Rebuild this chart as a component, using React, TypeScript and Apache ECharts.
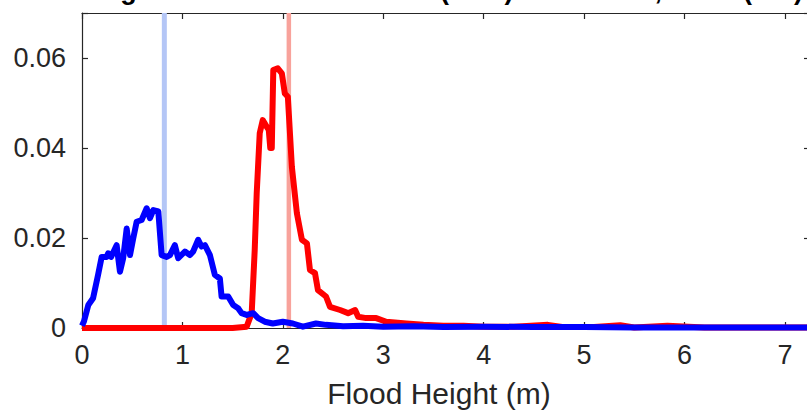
import React, { useEffect, useRef } from "react";
import * as echarts from "echarts";

const TITLE = "Histogram of Occurring Flood Heights Before 1800 or less (blue) and above, more (red)";
const X_LABEL = "Flood Height (m)";
const X_MIN = 0;
const X_MAX = 7.25;
const Y_MIN = 0;
const Y_MAX = 0.07;

const blueHeights = [0, 0.02, 0.063, 0.11, 0.16, 0.196, 0.245, 0.26, 0.29, 0.345, 0.378, 0.41, 0.445, 0.478, 0.51, 0.544, 0.594, 0.644, 0.677, 0.71, 0.76, 0.793, 0.843, 0.876, 0.925, 0.958, 1.025, 1.075, 1.107, 1.157, 1.19, 1.224, 1.274, 1.323, 1.373, 1.39, 1.456, 1.506, 1.555, 1.589, 1.64, 1.705, 1.754, 1.82, 1.9, 2.0, 2.1, 2.2, 2.33, 2.43, 2.6, 2.8, 3.0, 3.3, 3.6, 4.0, 4.5, 5.0, 5.5, 6.0, 6.5, 7.25];
const blueDensity = [0.0005, 0.0015, 0.0051, 0.0066, 0.0118, 0.0158, 0.0158, 0.0166, 0.0158, 0.0184, 0.0125, 0.0155, 0.0221, 0.0162, 0.0199, 0.0236, 0.024, 0.0266, 0.0244, 0.0262, 0.0259, 0.0162, 0.0158, 0.0162, 0.0184, 0.0155, 0.017, 0.0162, 0.017, 0.0196, 0.0181, 0.0184, 0.0162, 0.0118, 0.011, 0.007, 0.007, 0.0051, 0.0044, 0.0033, 0.0029, 0.0033, 0.0022, 0.0014, 0.001, 0.0014, 0.001, 0.0003, 0.001, 0.0007, 0.0004, 0.0005, 0.0003, 0.0004, 0.0002, 0.0003, 0.0002, 0.0002, 0.0001, 0.0001, 0.0001, 0.0001];

const redHeights = [0, 0.5, 1.0, 1.5, 1.64, 1.69, 1.72, 1.74, 1.77, 1.8, 1.84, 1.86, 1.875, 1.89, 1.905, 1.95, 1.99, 2.02, 2.05, 2.09, 2.14, 2.19, 2.24, 2.27, 2.32, 2.35, 2.43, 2.47, 2.57, 2.65, 2.72, 2.75, 2.83, 2.93, 3.03, 3.23, 3.4, 3.6, 3.8, 4.0, 4.3, 4.64, 4.8, 5.1, 5.36, 5.5, 5.83, 6.2, 7.25];
const redDensity = [0, 0, 0, 0, 0.0003, 0.0033, 0.0173, 0.03, 0.0433, 0.0462, 0.0447, 0.044, 0.04, 0.04, 0.0573, 0.0577, 0.0566, 0.0521, 0.0514, 0.0358, 0.0255, 0.0196, 0.0188, 0.0129, 0.0122, 0.0084, 0.007, 0.0047, 0.004, 0.0033, 0.004, 0.0025, 0.0022, 0.0022, 0.0014, 0.001, 0.0007, 0.0005, 0.0005, 0.0003, 0.0003, 0.0007, 0.0002, 0.0002, 0.0006, 0.0001, 0.0005, 0.0001, 0.0001];

const blueMarker = 0.82;
const redMarker = 2.06;

const FONT = "'Liberation Sans', Arial, Helvetica, sans-serif";
const AXIS_COLOR = "#262626";

function pairs(xs: number[], ys: number[]) {
  return xs.map((x, i) => [x, ys[i]]);
}

export default function App() {
  const ref = useRef<HTMLDivElement>(null);
  useEffect(() => {
    if (!ref.current) return;
    const chart = echarts.init(ref.current, null, { renderer: "svg" });
    const xTickFmt = (v: number) => (Math.abs(v - Math.round(v)) < 1e-9 ? String(Math.round(v)) : "");
    const yTickFmt = (v: number) => {
      const k = Math.round(v / 0.02);
      return Math.abs(v - k * 0.02) < 1e-9 ? (k === 0 ? "0" : (k * 0.02).toFixed(2)) : "";
    };
    const baseX = {
      type: "value",
      min: X_MIN,
      max: X_MAX,
      interval: 1,
      splitLine: { show: false },
      axisLine: { show: true, onZero: false, lineStyle: { color: AXIS_COLOR, width: 1.2 } },
      axisTick: { show: true, inside: true, length: 6, lineStyle: { color: AXIS_COLOR, width: 1.2 } },
    };
    const baseY = {
      type: "value",
      min: Y_MIN,
      max: Y_MAX,
      interval: 0.02,
      splitLine: { show: false },
      axisLine: { show: true, onZero: false, lineStyle: { color: AXIS_COLOR, width: 1.2 } },
      axisTick: { show: true, inside: true, length: 6, lineStyle: { color: AXIS_COLOR, width: 1.2 } },
    };
    chart.setOption({
      animation: false,
      backgroundColor: "#ffffff",
      grid: { left: 82, right: 2, top: 13, bottom: 83, containLabel: false },
      xAxis: [
        {
          ...baseX,
          position: "bottom",
          axisLabel: { formatter: xTickFmt, color: AXIS_COLOR, fontSize: 27, fontFamily: FONT, margin: 13 },
        },
        { ...baseX, position: "top", axisLabel: { show: false } },
      ],
      yAxis: [
        {
          ...baseY,
          position: "left",
          axisLabel: { formatter: yTickFmt, color: AXIS_COLOR, fontSize: 27, fontFamily: FONT, margin: 16 },
        },
        { ...baseY, position: "right", axisLabel: { show: false } },
      ],
      graphic: [
        {
          type: "text",
          x: 803,
          y: -10,
          silent: true,
          style: {
            text: TITLE,
            textAlign: "right",
            textVerticalAlign: "middle",
            fontSize: 27,
            fontWeight: "bold",
            fontFamily: FONT,
            fill: "#000000",
          },
        },
        {
          type: "text",
          x: 439,
          y: 393,
          silent: true,
          style: {
            text: X_LABEL,
            textAlign: "center",
            textVerticalAlign: "middle",
            fontSize: 30,
            fontFamily: FONT,
            fill: AXIS_COLOR,
          },
        },
      ],
      series: [
        {
          type: "line",
          name: "blue marker",
          data: [[blueMarker, Y_MIN], [blueMarker, Y_MAX]],
          showSymbol: false,
          lineStyle: { color: "#b4c6f6", width: 5 },
          silent: true,
        },
        {
          type: "line",
          name: "red marker",
          data: [[redMarker, Y_MIN], [redMarker, Y_MAX]],
          showSymbol: false,
          lineStyle: { color: "#f8a29b", width: 4.5 },
          silent: true,
        },
        {
          type: "line",
          name: "after",
          data: pairs(redHeights, redDensity),
          showSymbol: false,
          lineStyle: { color: "#ff0000", width: 6, join: "round" },
          silent: true,
        },
        {
          type: "line",
          name: "before",
          data: pairs(blueHeights, blueDensity),
          showSymbol: false,
          lineStyle: { color: "#0000ff", width: 6, join: "round" },
          silent: true,
        },
      ],
    });
    return () => chart.dispose();
  }, []);
  return (
    <div style={{ position: "fixed", left: 0, top: 0, width: 807, height: 411, overflow: "hidden", background: "#fff" }}>
      <div ref={ref} style={{ width: 813, height: 411 }} />
    </div>
  );
}
